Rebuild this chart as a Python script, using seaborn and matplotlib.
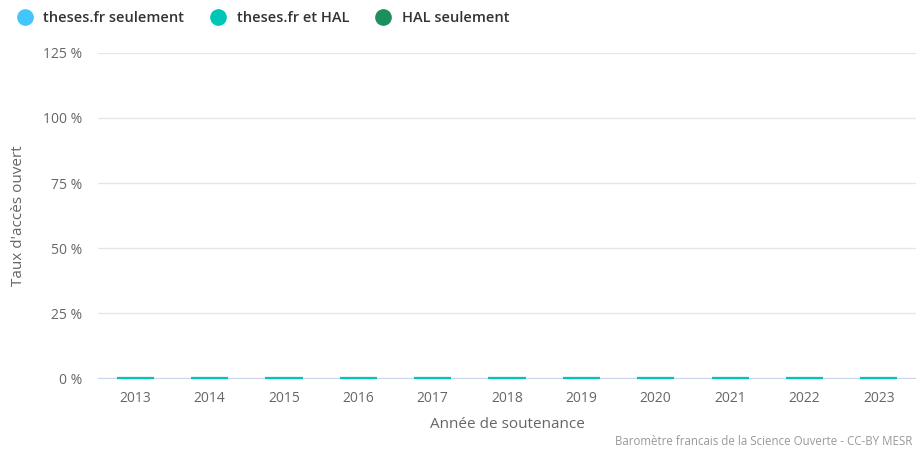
import pandas as pd
import numpy as np
import seaborn as sns
import matplotlib.pyplot as plt
from matplotlib.lines import Line2D

annees = ["2013", "2014", "2015", "2016", "2017", "2018", "2019", "2020", "2021", "2022", "2023"]
theses_seulement = [0, 0, 0, 0, 0, 0, 0, 0, 0, 0, 0]
theses_et_hal = [0, 0, 0, 0, 0, 0, 0, 0, 0, 0, 0]
hal_seulement = [0, 0, 0, 0, 0, 0, 0, 0, 0, 0, 0]

series = ["theses.fr seulement", "theses.fr et HAL", "HAL seulement"]
couleurs = ["#43c6fb", "#00c6b6", "#1b8f5c"]

sns.set_style("white")
plt.rcParams['font.family'] = ['Open Sans', 'DejaVu Sans']

df = pd.DataFrame({"annee": annees,
                   "theses.fr seulement": theses_seulement,
                   "theses.fr et HAL": theses_et_hal,
                   "HAL seulement": hal_seulement})

fig = plt.figure(figsize=(9.16, 4.49), dpi=100)
ax = fig.add_axes([0.107, 0.158, 0.893, 0.724])

# empilement : HAL seulement en bas, puis theses.fr seulement, theses.fr et HAL dessus
bottom = np.zeros(len(annees))
z = 3
for nom, coul in [("HAL seulement", couleurs[2]), ("theses.fr seulement", couleurs[0]),
                  ("theses.fr et HAL", couleurs[1])]:
    n_avant = len(ax.patches)
    sns.barplot(data=df, x="annee", y=nom, color=coul, bottom=bottom, width=0.5,
                edgecolor=coul, linewidth=1.5, ax=ax, saturation=1)
    for p in ax.patches[n_avant:]:
        p.set_zorder(z)
        p.set_edgecolor(coul)
        p.set_clip_on(False)
    z += 1
    bottom = bottom + df[nom].values

ax.set_ylim(0, 125)
ax.set_yticks([0, 25, 50, 75, 100, 125])
ax.set_yticklabels([f"{v} %" for v in [0, 25, 50, 75, 100, 125]])
ax.yaxis.grid(True, color="#e6e6e6", linewidth=1)
ax.set_axisbelow(True)
for s in ["top", "right", "left"]:
    ax.spines[s].set_visible(False)
ax.spines["bottom"].set_color("#ccd6eb")
ax.spines["bottom"].set_zorder(1)
ax.tick_params(axis="both", length=0, labelsize=10, colors="#666666", pad=9)
ax.tick_params(axis="y", pad=11.5)
ax.set_xlabel("Année de soutenance", fontsize=11, color="#666666", labelpad=8)
ax.set_ylabel("Taux d'accès ouvert", fontsize=11, color="#666666", labelpad=12)

handles = [Line2D([0], [0], marker="o", linestyle="", markersize=11,
                  markerfacecolor=c, markeredgecolor=c) for c in couleurs]
fig.legend(handles, series, loc="upper left", bbox_to_anchor=(-0.003, 1.005), ncol=3,
           frameon=False, handletextpad=0.25, columnspacing=1.35,
           prop={"weight": "semibold", "size": 10.5}, labelcolor="#333333")

fig.text(0.996, 0.002, "Baromètre francais de la Science Ouverte - CC-BY MESR",
         ha="right", va="bottom", fontsize=8.3, color="#999999")

fig.savefig("out.png", dpi=100)
